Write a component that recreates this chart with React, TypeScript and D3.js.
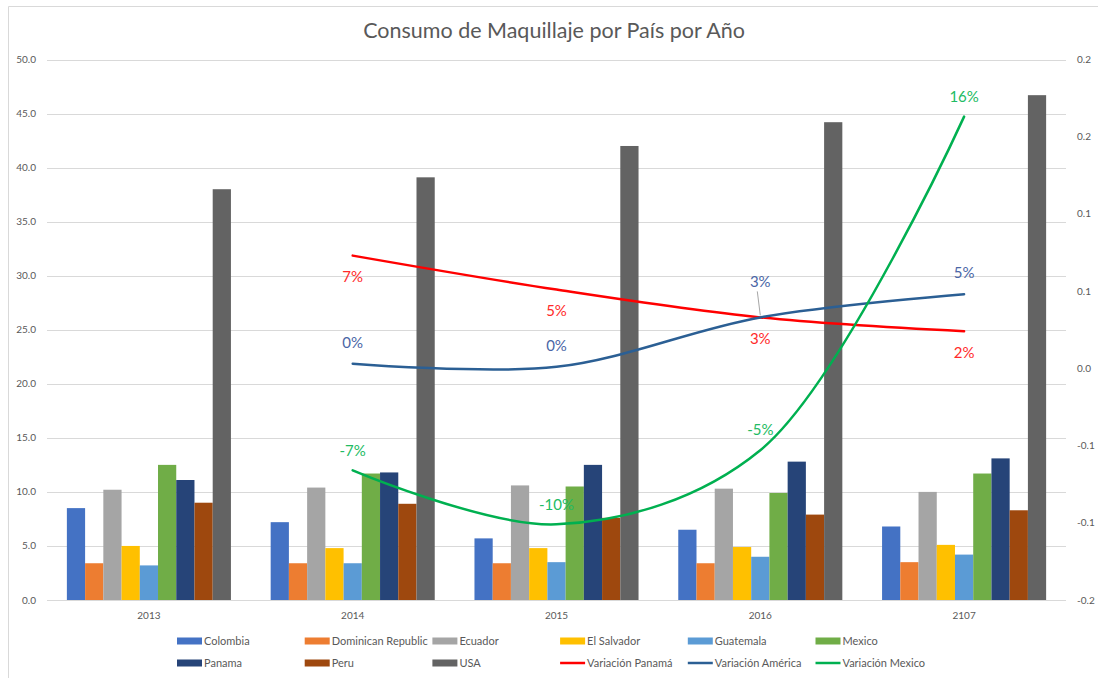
import React from 'react'
import * as d3 from 'd3'

// categories
const years = ['2013', '2014', '2015', '2016', '2107']
const lineYears = ['2014', '2015', '2016', '2107']
const countries = ['Colombia', 'Dominican Republic', 'Ecuador', 'El Salvador', 'Guatemala', 'Mexico', 'Panama', 'Peru', 'USA']

// bar values, one array per country (same order as years)
const colombia = [8.5, 7.2, 5.7, 6.5, 6.8]
const dominican = [3.4, 3.4, 3.4, 3.4, 3.5]
const ecuador = [10.2, 10.4, 10.6, 10.3, 10.0]
const elSalvador = [5.0, 4.8, 4.8, 4.9, 5.1]
const guatemala = [3.2, 3.4, 3.5, 4.0, 4.2]
const mexico = [12.5, 11.7, 10.5, 9.9, 11.7]
const panama = [11.1, 11.8, 12.5, 12.8, 13.1]
const peru = [9.0, 8.9, 7.6, 7.9, 8.3]
const usa = [38.0, 39.1, 42.0, 44.2, 46.7]

// variation lines (secondary axis)
const varPanama = [0.073, 0.051, 0.033, 0.024]
const varAmerica = [0.003, 0.001, 0.033, 0.048]
const varMexico = [-0.066, -0.101, -0.053, 0.163]

// axis ticks
const leftTicks = [0, 5, 10, 15, 20, 25, 30, 35, 40, 45, 50]
const rightTicks = [-0.15, -0.1, -0.05, 0, 0.05, 0.1, 0.15, 0.2]
const rightTickLabels = ['-0.2', '-0.1', '-0.1', '0.0', '0.1', '0.1', '0.2', '0.2']

const barSeries = [colombia, dominican, ecuador, elSalvador, guatemala, mexico, panama, peru, usa]
const barColors = ['#4472C4', '#ED7D31', '#A5A5A5', '#FFC000', '#5B9BD5', '#70AD47', '#264478', '#9E480E', '#636363']

const lineSeries = [
    { name: 'Variación Panamá', values: varPanama, color: '#FF0000', label: '#FF2A2A', dy: 21 },
    { name: 'Variación América', values: varAmerica, color: '#2B5F94', label: '#4A66A6', dy: -21 },
    { name: 'Variación Mexico', values: varMexico, color: '#00B050', label: '#22BB63', dy: -20 },
]

const textColor = '#595959'
const font = 'Lato, "Open Sans", sans-serif'

const App = () => {
    const left = 47, right = 1066, top = 59.5, bottom = 600

    const x0 = d3.scaleBand().domain(years).range([left, right]).paddingInner(0.195).paddingOuter(0.0975)
    const x1 = d3.scaleBand().domain(countries).range([0, x0.bandwidth()])
    const yL = d3.scaleLinear().domain([0, 50]).range([bottom, top])
    const yR = d3.scaleLinear().domain([-0.15, 0.2]).range([bottom, top])
    const fmtL = d3.format('.1f')
    const fmtP = (v: number) => d3.format('.0%')(v).replace('\u2212', '-')

    const cx = (yr: string) => (x0(yr) as number) + x0.bandwidth() / 2
    const line = d3.line<number>()
        .x((_, i) => cx(lineYears[i]))
        .y(d => yR(d))
        .curve(d3.curveCatmullRom.alpha(0.5))

    const legendItems = [
        ...countries.map((c, i) => ({ name: c, color: barColors[i], kind: 'bar' })),
        ...lineSeries.map(s => ({ name: s.name, color: s.color, kind: 'line' })),
    ]

    return (
        <svg width={1098} height={678} style={{ position: 'absolute', left: 0, top: 0, background: '#fff' }}
            fontFamily={font}>
            <path d="M8.5,678V6.5H1098" fill="none" stroke="#D9D9D9" />

            <text x={554} y={38} textAnchor="middle" fontSize={21.5} fill={textColor}>
                Consumo de Maquillaje por País por Año
            </text>

            {leftTicks.map(t => (
                <g key={'g' + t}>
                    <line x1={left} x2={right} y1={Math.round(yL(t)) + 0.5} y2={Math.round(yL(t)) + 0.5}
                        stroke="#D9D9D9" strokeWidth={1} />
                    <text x={36} y={yL(t)} dy="0.35em" textAnchor="end" fontSize={10} fill={textColor}>{fmtL(t)}</text>
                </g>
            ))}

            {rightTicks.map((t, i) => (
                <text key={'r' + i} x={1077} y={yR(t)} dy="0.35em" fontSize={10} fill={textColor}>{rightTickLabels[i]}</text>
            ))}

            {years.map(yr => (
                <text key={'c' + yr} x={cx(yr)} y={615} dy="0.35em" textAnchor="middle" fontSize={10} fill={textColor}>{yr}</text>
            ))}

            {barSeries.map((vals, si) => (
                <g key={'s' + si} fill={barColors[si]}>
                    {vals.map((v, i) => (
                        <rect key={i}
                            x={(x0(years[i]) as number) + (x1(countries[si]) as number)}
                            y={yL(v)}
                            width={x1.bandwidth()}
                            height={yL(0) - yL(v)} />
                    ))}
                </g>
            ))}

            {lineSeries.map(s => (
                <path key={s.name} d={line(s.values) || ''} fill="none" stroke={s.color} strokeWidth={2.5} strokeLinecap="round" />
            ))}

            {lineSeries.map(s => s.values.map((v, i) => {
                const special = s.name === 'Variación América' && i === 2
                const dy = special ? -36 : s.dy
                return (
                    <g key={s.name + i}>
                        {special && (
                            <line x1={cx(lineYears[i]) - 3} y1={yR(v) - 26} x2={cx(lineYears[i])} y2={yR(v) - 2}
                                stroke="#A6A6A6" strokeWidth={1} />
                        )}
                        <text x={cx(lineYears[i])} y={yR(v) + dy} dy="0.35em" textAnchor="middle"
                            fontSize={15} fill={s.label}>{fmtP(v)}</text>
                    </g>
                )
            }))}

            {legendItems.map((it, i) => {
                const lx = 177 + (i % 6) * 127.7
                const ly = i < 6 ? 641 : 663
                return (
                    <g key={'l' + i}>
                        {it.kind === 'bar'
                            ? <rect x={lx} y={ly - 3.5} width={25} height={7} fill={it.color} />
                            : <line x1={lx} x2={lx + 25} y1={ly} y2={ly} stroke={it.color} strokeWidth={2.5} />}
                        <text x={lx + 27} y={ly} dy="0.35em" fontSize={11} fill={textColor}>{it.name}</text>
                    </g>
                )
            })}
        </svg>
    )
}

export default App
